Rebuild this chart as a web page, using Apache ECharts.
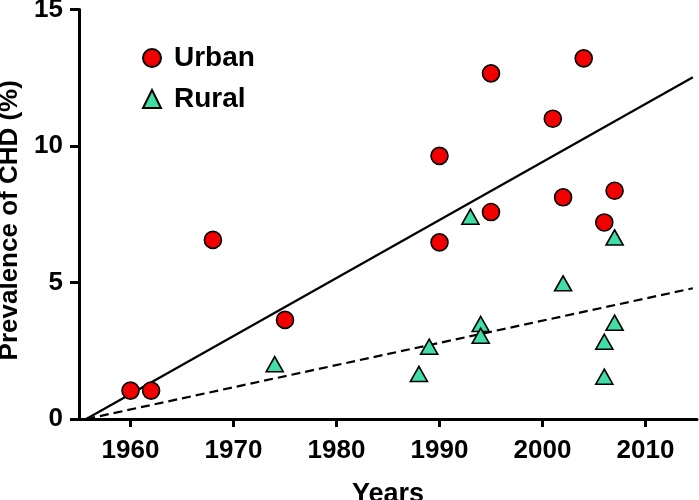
<!DOCTYPE html>
<html>
<head>
<meta charset="utf-8">
<script src="https://cdn.jsdelivr.net/npm/echarts@6/dist/echarts.min.js"></script>
<style>
  html, body { margin: 0; padding: 0; background: #fff; }
  #chart { width: 699px; height: 500px; }
</style>
</head>
<body>
<div id="chart"></div>
<script>
// Urban prevalence points [year, %]
const urbanPoints = [
  [1960, 1.04], [1962, 1.04], [1968, 6.56], [1975, 3.63],
  [1990, 9.64], [1990, 6.47], [1995, 12.66], [1995, 7.58],
  [2001, 11.0], [2002, 8.12], [2004, 13.21], [2006, 7.2], [2007, 8.36]
]
// Rural prevalence points [year, %]
const ruralPoints = [
  [1974, 2.01], [1988, 1.65], [1989, 2.65], [1993, 7.41],
  [1994, 3.48], [1994, 3.05], [2002, 4.97], [2006, 2.83],
  [2006, 1.55], [2007, 6.65], [2007, 3.53]
]
// regression lines (end points)
const urbanFit = [[1955.7, 0], [2014.6, 12.52]]
const ruralFit = [[1955.7, 0], [2014.6, 4.79]]

const xTicks = [1960, 1970, 1980, 1990, 2000, 2010]
const yTicks = [0, 5, 10, 15]
const fontFamily = '"Liberation Sans", Arial, Helvetica, sans-serif'

const chart = echarts.init(document.getElementById('chart'))

const option = {
  backgroundColor: '#fff',
  animation: false,
  grid: {
    left: 79,
    right: 2,
    top: 9.5,
    bottom: 81,
    outerBoundsMode: 'none',
    containLabel: false
  },
  legend: {
    data: ['Urban', 'Rural'],
    orient: 'vertical',
    left: 137,
    top: 38,
    itemWidth: 18,
    itemHeight: 18,
    itemGap: 11,
    textStyle: {
      fontFamily: fontFamily,
      fontWeight: 'bold',
      fontSize: 28,
      lineHeight: 30,
      color: '#000',
      padding: [0, 0, 0, 8]
    }
  },
  xAxis: {
    type: 'value',
    min: 1955,
    max: 2015,
    name: 'Years',
    nameLocation: 'middle',
    nameGap: 62,
    nameTextStyle: {
      fontFamily: fontFamily,
      fontWeight: 'bold',
      fontSize: 27,
      color: '#000'
    },
    axisLine: { onZero: false, lineStyle: { color: '#000', width: 3 } },
    axisTick: { length: 8, customValues: xTicks, lineStyle: { color: '#000', width: 3 } },
    axisLabel: {
      margin: 19,
      customValues: xTicks,
      formatter: v => String(v),
      fontFamily: fontFamily,
      fontWeight: 'bold',
      fontSize: 26,
      color: '#000'
    },
    splitLine: { show: false }
  },
  yAxis: {
    type: 'value',
    min: yTicks[0],
    max: yTicks[yTicks.length - 1],
    interval: 5,
    name: 'Prevalence of CHD (%)',
    nameLocation: 'middle',
    nameRotate: 90,
    nameGap: 51,
    nameTextStyle: {
      fontFamily: fontFamily,
      fontWeight: 'bold',
      fontSize: 26,
      color: '#000',
      padding: [0, 12, 0, 0]
    },
    axisLine: { show: true, lineStyle: { color: '#000', width: 3 } },
    axisTick: { show: true, length: 9, lineStyle: { color: '#000', width: 3 } },
    axisLabel: {
      margin: 16,
      fontFamily: fontFamily,
      fontWeight: 'bold',
      fontSize: 26,
      color: '#000'
    },
    splitLine: { show: false }
  },
  series: [
    {
      name: 'UrbanFit',
      type: 'line',
      data: urbanFit,
      symbol: 'none',
      lineStyle: { color: '#000', width: 2.2 },
      z: 1
    },
    {
      name: 'RuralFit',
      type: 'line',
      data: ruralFit,
      symbol: 'none',
      lineStyle: { color: '#000', width: 2.2, type: [9, 5] },
      z: 1
    },
    {
      name: 'Urban',
      type: 'scatter',
      data: urbanPoints,
      symbol: 'circle',
      symbolSize: 17,
      itemStyle: { color: '#f20000', borderColor: '#000', borderWidth: 1.6, opacity: 1 },
      z: 3
    },
    {
      name: 'Rural',
      type: 'scatter',
      data: ruralPoints,
      symbol: 'triangle',
      symbolSize: [17, 15],
      itemStyle: { color: '#40dea6', borderColor: '#000', borderWidth: 1.6, opacity: 1 },
      z: 3
    }
  ]
}

chart.setOption(option)
</script>
</body>
</html>
